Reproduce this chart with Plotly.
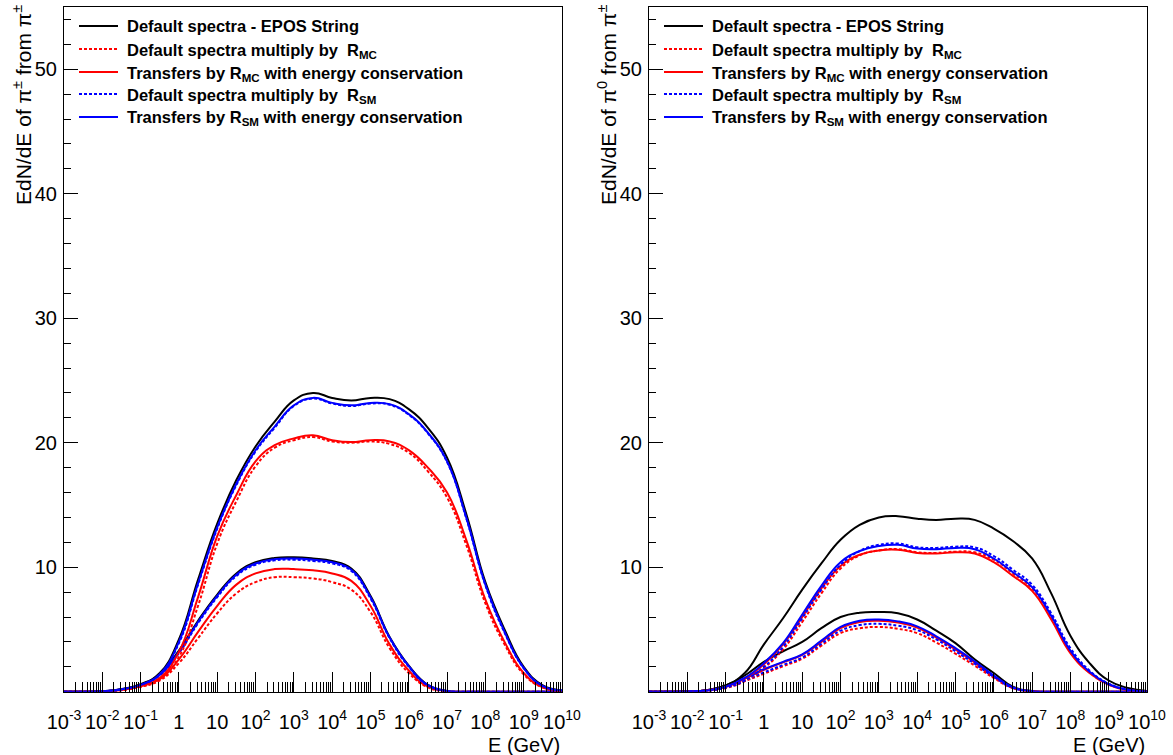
import plotly.graph_objects as go

# ---------------- data ----------------
energy_gev = [1e-3, 3.16e-3, 1e-2, 3.16e-2, 1e-1, 3.16e-1, 1, 3.16, 10, 31.6, 100, 316,
              1e3, 3.16e3, 1e4, 3.16e4, 1e5, 3.16e5, 1e6, 3.16e6, 1e7, 3.16e7,
              1e8, 3.16e8, 1e9, 3.16e9, 1e10]

# left panel : EdN/dE of pi+- from pi+-  (upper group)
left_hi_black    = [0, 0, 0.03, 0.2, 0.6, 1.5, 4.2, 9.0, 13.5, 17.0, 19.7, 21.7, 23.4, 24.0, 23.6, 23.4, 23.6, 23.5, 22.7, 21.2, 18.8, 14.3, 8.8, 5.0, 2.0, 0.5, 0.1]
left_hi_red_dot  = [0, 0, 0.02, 0.12, 0.4, 1.0, 2.8, 6.9, 11.9, 15.3, 18.1, 19.6, 20.2, 20.45, 20.1, 20.0, 20.1, 19.9, 19.2, 17.7, 15.6, 11.8, 7.1, 3.8, 1.4, 0.33, 0.05]
left_hi_red      = [0, 0, 0.02, 0.15, 0.45, 1.1, 3.2, 7.6, 12.5, 15.8, 18.5, 19.8, 20.35, 20.6, 20.2, 20.05, 20.2, 20.1, 19.4, 18.0, 16.0, 12.2, 7.4, 4.0, 1.5, 0.35, 0.05]
left_hi_blue_dot = [0, 0, 0.03, 0.18, 0.55, 1.4, 3.9, 8.6, 13.1, 16.6, 19.3, 21.2, 22.95, 23.55, 23.15, 22.95, 23.15, 23.05, 22.25, 20.75, 18.45, 13.95, 8.55, 4.75, 1.9, 0.45, 0.1]
left_hi_blue     = [0, 0, 0.03, 0.18, 0.55, 1.4, 4.0, 8.7, 13.2, 16.7, 19.4, 21.3, 23.0, 23.6, 23.2, 23.0, 23.2, 23.1, 22.3, 20.8, 18.5, 14.0, 8.6, 4.8, 1.9, 0.45, 0.1]
# left panel (lower group)
left_lo_black    = [0, 0, 0.03, 0.2, 0.55, 1.4, 3.3, 5.7, 7.8, 9.5, 10.4, 10.75, 10.8, 10.7, 10.5, 9.9, 7.7, 4.4, 2.1, 0.55, 0.05, 0, 0, 0, 0, 0, 0]
left_lo_red_dot  = [0, 0, 0.02, 0.12, 0.4, 0.9, 2.3, 4.3, 6.3, 7.9, 8.8, 9.2, 9.2, 9.1, 8.8, 8.2, 6.4, 3.5, 1.5, 0.35, 0.03, 0, 0, 0, 0, 0, 0]
left_lo_red      = [0, 0, 0.02, 0.15, 0.45, 1.0, 2.6, 4.8, 6.9, 8.6, 9.5, 9.85, 9.85, 9.75, 9.5, 8.9, 6.9, 3.8, 1.7, 0.4, 0.03, 0, 0, 0, 0, 0, 0]
left_lo_blue_dot = [0, 0, 0.03, 0.18, 0.5, 1.3, 3.1, 5.5, 7.6, 9.3, 10.2, 10.55, 10.6, 10.5, 10.3, 9.7, 7.5, 4.3, 2.0, 0.5, 0.05, 0, 0, 0, 0, 0, 0]
left_lo_blue     = [0, 0, 0.03, 0.19, 0.52, 1.35, 3.2, 5.6, 7.7, 9.4, 10.3, 10.65, 10.7, 10.6, 10.4, 9.8, 7.6, 4.35, 2.05, 0.52, 0.05, 0, 0, 0, 0, 0, 0]

# right panel : EdN/dE of pi0 from pi+-  (upper group)
right_hi_black    = [0, 0, 0.03, 0.12, 0.5, 1.5, 3.8, 5.9, 8.2, 10.3, 12.2, 13.4, 14.0, 14.1, 13.9, 13.8, 13.9, 13.8, 13.1, 12.1, 10.7, 7.9, 4.5, 2.3, 0.9, 0.3, 0.05]
right_hi_red_dot  = [0, 0, 0.02, 0.08, 0.3, 0.85, 1.9, 3.4, 5.6, 7.9, 9.9, 10.95, 11.35, 11.45, 11.2, 11.15, 11.25, 11.2, 10.6, 9.5, 8.3, 6.0, 3.2, 1.55, 0.6, 0.14, 0.02]
right_hi_red      = [0, 0, 0.02, 0.1, 0.38, 1.05, 2.2, 3.8, 6.0, 8.3, 10.1, 11.0, 11.35, 11.4, 11.15, 11.1, 11.2, 11.1, 10.4, 9.3, 8.1, 5.8, 3.1, 1.5, 0.55, 0.13, 0.02]
right_hi_blue_dot = [0, 0, 0.02, 0.08, 0.32, 0.9, 2.0, 3.6, 5.9, 8.2, 10.2, 11.3, 11.8, 11.9, 11.6, 11.55, 11.65, 11.6, 10.9, 9.8, 8.6, 6.3, 3.5, 1.7, 0.65, 0.16, 0.02]
right_hi_blue     = [0, 0, 0.02, 0.1, 0.4, 1.1, 2.3, 3.9, 6.2, 8.5, 10.4, 11.3, 11.7, 11.8, 11.5, 11.45, 11.55, 11.45, 10.7, 9.6, 8.4, 6.1, 3.3, 1.6, 0.6, 0.15, 0.02]
# right panel (lower group)
right_lo_black    = [0, 0, 0.03, 0.12, 0.5, 1.3, 2.4, 3.25, 4.0, 5.1, 6.0, 6.35, 6.4, 6.3, 5.8, 4.9, 3.9, 2.6, 1.5, 0.4, 0.05, 0, 0, 0, 0, 0, 0]
right_lo_red_dot  = [0, 0, 0.02, 0.08, 0.32, 0.85, 1.45, 2.05, 2.65, 3.7, 4.7, 5.1, 5.2, 5.05, 4.7, 3.95, 3.05, 2.1, 1.1, 0.28, 0.03, 0, 0, 0, 0, 0, 0]
right_lo_red      = [0, 0, 0.02, 0.1, 0.42, 1.05, 1.75, 2.35, 2.95, 4.0, 5.1, 5.6, 5.7, 5.55, 5.15, 4.35, 3.4, 2.35, 1.2, 0.32, 0.03, 0, 0, 0, 0, 0, 0]
right_lo_blue_dot = [0, 0, 0.02, 0.09, 0.35, 0.9, 1.55, 2.15, 2.75, 3.85, 4.9, 5.35, 5.45, 5.3, 4.95, 4.2, 3.25, 2.25, 1.2, 0.3, 0.03, 0, 0, 0, 0, 0, 0]
right_lo_blue     = [0, 0, 0.02, 0.1, 0.45, 1.1, 1.8, 2.4, 3.0, 4.1, 5.2, 5.7, 5.8, 5.65, 5.25, 4.45, 3.5, 2.45, 1.3, 0.35, 0.04, 0, 0, 0, 0, 0, 0]

legend_labels = [
    "Default spectra - EPOS String",
    "Default spectra multiply by  R<sub>MC</sub>",
    "Transfers by R<sub>MC</sub> with energy conservation",
    "Default spectra multiply by  R<sub>SM</sub>",
    "Transfers by R<sub>SM</sub> with energy conservation",
]
y_titles = ["EdN/dE of π<sup>±</sup> from π<sup>±</sup>",
            "EdN/dE of π<sup>0</sup> from π<sup>±</sup>"]
x_title = "E (GeV)"
x_tick_vals = [1e-3, 1e-2, 1e-1, 1, 10, 1e2, 1e3, 1e4, 1e5, 1e6, 1e7, 1e8, 1e9, 1e10]
x_tick_text = ["10<sup>-3</sup>", "10<sup>-2</sup>", "10<sup>-1</sup>", "1", "10",
               "10<sup>2</sup>", "10<sup>3</sup>", "10<sup>4</sup>", "10<sup>5</sup>",
               "10<sup>6</sup>", "10<sup>7</sup>", "10<sup>8</sup>", "10<sup>9</sup>",
               "10<sup>10</sup>"]
y_tick_vals = [10, 20, 30, 40, 50]

# ---------------- styling ----------------
W, H = 1173, 755
styles = [("#000000", "solid"), ("#ff0000", "3px,2px"), ("#ff0000", "solid"),
          ("#0000ff", "3px,2px"), ("#0000ff", "solid")]
FONT = "Liberation Sans, Arial, Helvetica, sans-serif"

panels = [
    dict(xa="x", ya="y", groups=[
        [left_lo_black, left_lo_red_dot, left_lo_red, left_lo_blue_dot, left_lo_blue],
        [left_hi_black, left_hi_red_dot, left_hi_red, left_hi_blue_dot, left_hi_blue]],
         x0=64, x1=562),
    dict(xa="x2", ya="y2", groups=[
        [right_lo_black, right_lo_red_dot, right_lo_red, right_lo_blue_dot, right_lo_blue],
        [right_hi_black, right_hi_red_dot, right_hi_red, right_hi_blue_dot, right_hi_blue]],
         x0=649, x1=1147),
]
TOP, BOT = 7, 691.7

fig = go.Figure()
draw_order = [0, 2, 1, 4, 3]
for p in panels:
    for grp in p["groups"]:
        for i in draw_order:
            col, dash = styles[i]
            fig.add_trace(go.Scatter(
                x=energy_gev, y=grp[i], mode="lines",
                line=dict(color=col, width=2, dash=dash, shape="spline", smoothing=1.3),
                xaxis=p["xa"], yaxis=p["ya"], showlegend=False, hoverinfo="skip"))

axis_common = dict(showgrid=False, zeroline=False, showline=True, mirror=True,
                   linecolor="black", linewidth=1, ticks="inside", tickcolor="black",
                   tickwidth=1, automargin=False,
                   tickfont=dict(family=FONT, size=20, color="black"))

ydom = [(H - BOT) / H, (H - TOP) / H]
layout = dict(width=W, height=H, autosize=False,
              margin=dict(l=0, r=0, t=0, b=0, pad=0, autoexpand=False),
              paper_bgcolor="white", plot_bgcolor="white", showlegend=False,
              font=dict(family=FONT, color="black"))
for k, p in enumerate(panels):
    sfx = "" if k == 0 else "2"
    layout["xaxis" + sfx] = dict(
        axis_common, type="log", range=[-3, 10], domain=[p["x0"] / W, p["x1"] / W],
        anchor="y" + sfx, tickmode="array", tickvals=x_tick_vals, ticktext=x_tick_text,
        ticklen=20, ticklabelstandoff=12,
        minor=dict(ticks="inside", ticklen=10, tickcolor="black", tickwidth=1,
                   dtick="D1", showgrid=False))
    layout["yaxis" + sfx] = dict(
        axis_common, range=[0, 55], domain=ydom, anchor="x" + sfx,
        tickmode="array", tickvals=y_tick_vals, ticklen=14, ticklabelstandoff=2,
        minor=dict(ticks="inside", ticklen=7, tickcolor="black", tickwidth=1,
                   tickmode="linear", tick0=0, dtick=2, showgrid=False))
fig.update_layout(**layout)

# legends (ROOT-style boxes without border)
row_y = [26, 49, 72, 94, 117]
for p in panels:
    off = p["x0"]
    for i, lab in enumerate(legend_labels):
        col, dash = styles[i]
        fig.add_shape(type="line", xref="paper", yref="paper",
                      x0=(off + 15) / W, x1=(off + 54) / W,
                      y0=1 - row_y[i] / H, y1=1 - row_y[i] / H,
                      line=dict(color=col, width=2, dash=dash))
        fig.add_annotation(xref="paper", yref="paper", x=(off + 62) / W,
                           y=1 - (row_y[i] - 9.5) / H, xanchor="left", yanchor="top",
                           text="<b>" + lab + "</b>", showarrow=False, borderpad=0,
                           font=dict(family=FONT, size=16.5, color="black"))

# axis titles
for k, p in enumerate(panels):
    fig.add_annotation(xref="paper", yref="paper", x=(p["x0"] - 42) / W, y=1 - 3 / H,
                       xanchor="center", yanchor="top", textangle=-90, showarrow=False,
                       text=y_titles[k], font=dict(family=FONT, size=21, color="black"))
    fig.add_annotation(xref="paper", yref="paper", x=p["x1"] / W, y=1 - 745 / H,
                       xanchor="right", yanchor="middle", showarrow=False,
                       text=x_title, font=dict(family=FONT, size=20, color="black"))

fig.write_html("out.html")
